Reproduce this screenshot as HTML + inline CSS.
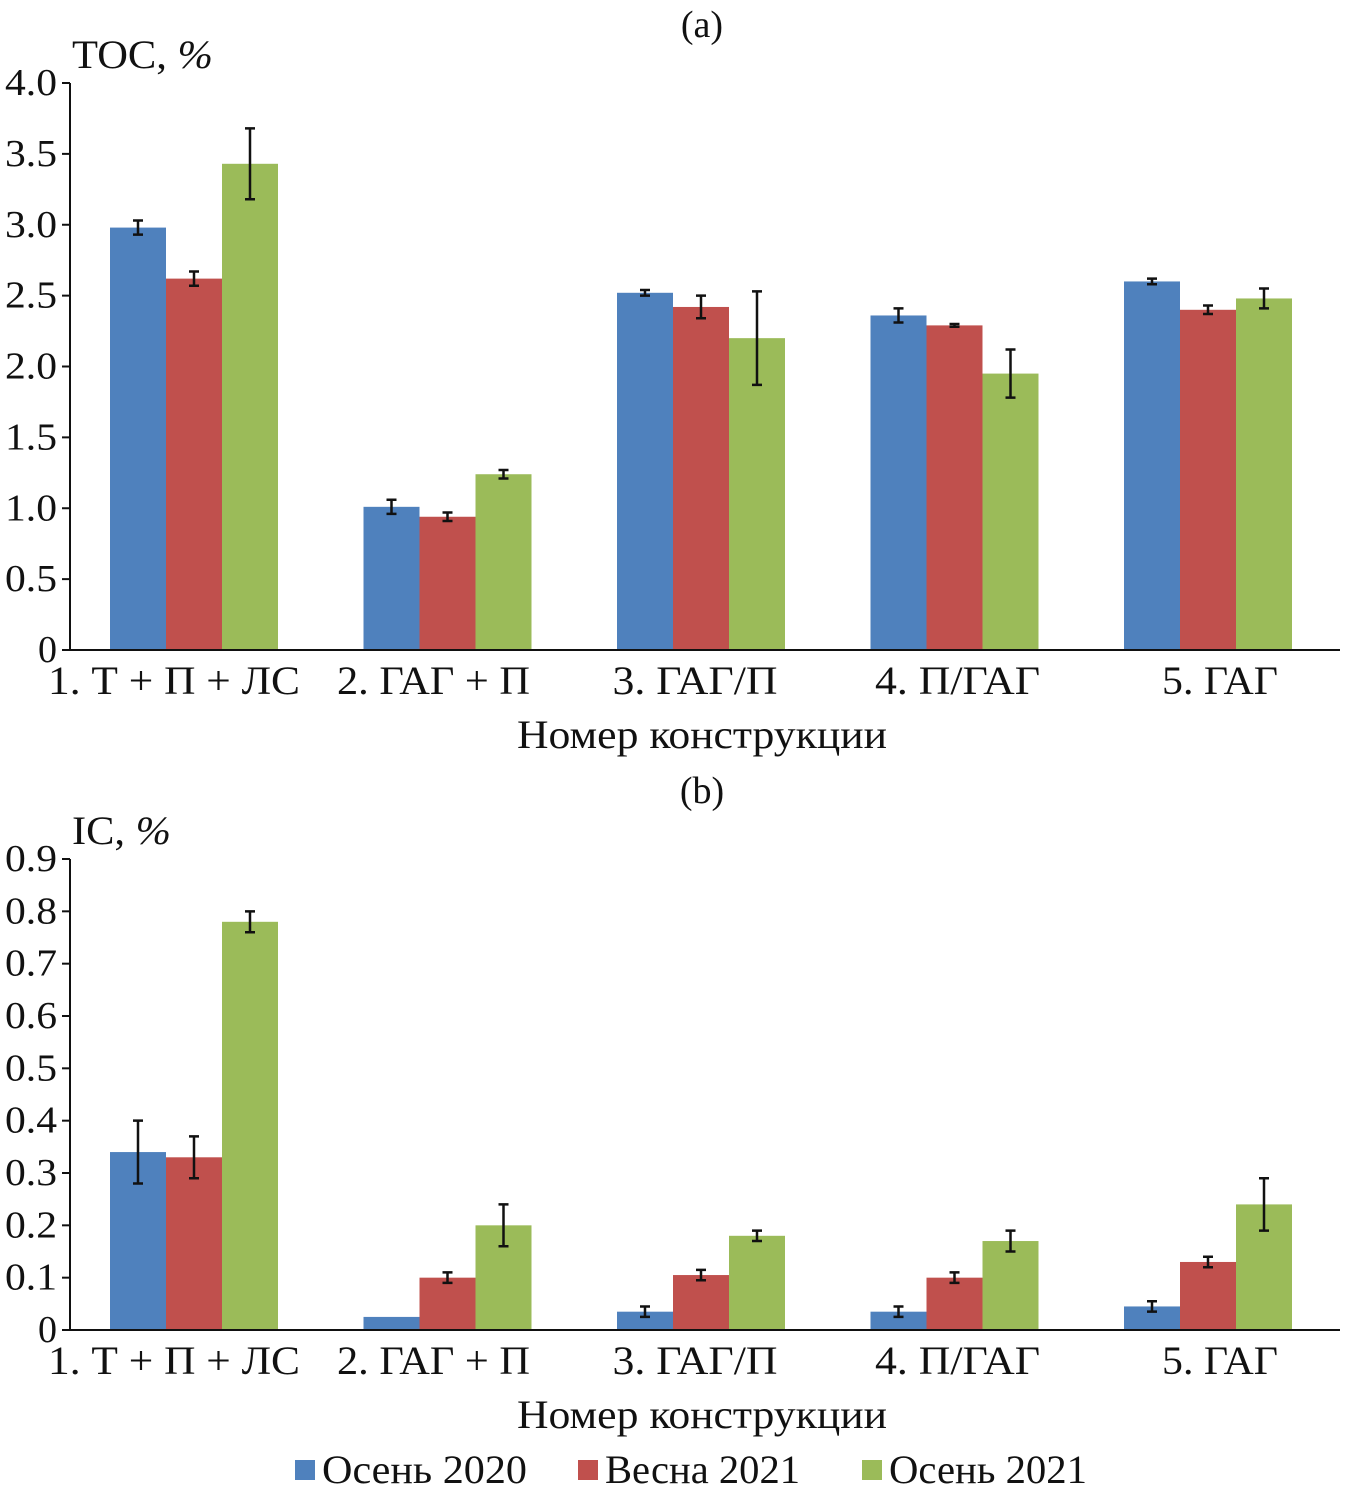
<!DOCTYPE html>
<html><head><meta charset="utf-8">
<style>
html,body{margin:0;padding:0;background:#fff;}
svg text{font-family:"Liberation Serif","DejaVu Serif",serif;fill:#111;}
</style></head>
<body>
<svg id="chart" width="1345" height="1500" xmlns="http://www.w3.org/2000/svg"></svg>
<script>
const categories = ["1. Т + П + ЛС","2. ГАГ + П","3. ГАГ/П","4. П/ГАГ","5. ГАГ"];
const seriesNames = ["Осень 2020","Весна 2021","Осень 2021"];
const seriesColors = ["#4f81bd","#c0504d","#9bbb59"];
const tocAutumn2020 = [2.98,1.01,2.52,2.36,2.60];
const tocSpring2021 = [2.62,0.94,2.42,2.29,2.40];
const tocAutumn2021 = [3.43,1.24,2.20,1.95,2.48];
const tocErr2020 = [0.05,0.05,0.02,0.05,0.02];
const tocErrS2021 = [0.05,0.03,0.08,0.01,0.03];
const tocErr2021 = [0.25,0.03,0.33,0.17,0.07];
const tocTicks = ["0","0.5","1.0","1.5","2.0","2.5","3.0","3.5","4.0"];
const icAutumn2020 = [0.34,0.025,0.035,0.035,0.045];
const icSpring2021 = [0.33,0.10,0.105,0.10,0.13];
const icAutumn2021 = [0.78,0.20,0.18,0.17,0.24];
const icErr2020 = [0.06,0,0.01,0.01,0.01];
const icErrS2021 = [0.04,0.01,0.01,0.01,0.01];
const icErr2021 = [0.02,0.04,0.01,0.02,0.05];
const icTicks = ["0","0.1","0.2","0.3","0.4","0.5","0.6","0.7","0.8","0.9"];

const svg = document.getElementById('chart');
const NS = "http://www.w3.org/2000/svg";
function mk(tag, attrs, text){
  const e = document.createElementNS(NS, tag);
  for (const k in attrs) e.setAttribute(k, attrs[k]);
  if (text !== undefined) e.textContent = text;
  svg.appendChild(e);
  return e;
}
const labelShift = [-20,-14,-6,3,12];
const labelLen = [252,193,165,165,116];

function drawPanel(p){
  const x0 = 70, x1 = 1340, gw = 253.5, bw = 56;
  const yScale = v => p.yBottom - (v / p.yMax) * (p.yBottom - p.yTop);
  const xGroup = i => x0 + i * gw + 40;
  let t = mk('text',{x:702,y:p.titleY,'font-size':38,'text-anchor':'middle'},p.title);
   
  t = mk('text',{x:72,y:p.yTop-15,'font-size':40,textLength:p.yLabelLen,lengthAdjust:'spacingAndGlyphs'},'');
   
  t.innerHTML = p.yLabel + ', <tspan font-style="italic">%</tspan>';
  p.ticks.forEach((lab) => {
    const v = parseFloat(lab);
    const y = yScale(v);
    let l = mk('line',{x1:x0-8,x2:x0,y1:y,y2:y,stroke:'#111','stroke-width':2});
     
    const attrs = {x:57,y:y+12,'font-size':38,'text-anchor':'end'};
    if (lab.length === 3) { attrs.textLength = 52; attrs.lengthAdjust = 'spacingAndGlyphs'; }
    let tt = mk('text',attrs,lab);
     
  });
  p.series.forEach((vals, s) => {
    vals.forEach((v, i) => {
      const x = xGroup(i) + s * bw;
      const y = yScale(v);
      let r = mk('rect',{x:x,y:y,width:bw,height:p.yBottom-y,fill:seriesColors[s]});
       
      const e = p.errs[s][i];
      if (e > 0) {
        const cx = x + bw/2, ya = yScale(v+e), yb = yScale(v-e);
        let g = mk('path',{d:`M${cx},${ya}V${yb}M${cx-5},${ya}H${cx+5}M${cx-5},${yb}H${cx+5}`,stroke:'#111','stroke-width':2.5,fill:'none'});
         
      }
    });
  });
  let a = mk('line',{x1:x0,x2:x0,y1:p.yTop,y2:p.yBottom+1,stroke:'#111','stroke-width':2});
   
  a = mk('line',{x1:x0,x2:x1,y1:p.yBottom,y2:p.yBottom,stroke:'#111','stroke-width':2});
   
  categories.forEach((c, i) => {
    const cx = xGroup(i)+bw*1.5+labelShift[i];
    let tt = mk('text',{x:cx-labelLen[i]/2,y:p.yBottom+44,'font-size':40,textLength:labelLen[i],lengthAdjust:'spacingAndGlyphs'},c);
     
  });
  t = mk('text',{x:517,y:p.yBottom+98,'font-size':40,textLength:370,lengthAdjust:'spacingAndGlyphs'},'Номер конструкции');
   
}

drawPanel({key:'toc',title:'(a)',titleY:37,yLabel:'TOC',yLabelLen:141,yTop:83,yBottom:650,yMax:4.0,ticks:tocTicks,
  series:[tocAutumn2020,tocSpring2021,tocAutumn2021],errs:[tocErr2020,tocErrS2021,tocErr2021]});
drawPanel({key:'ic',title:'(b)',titleY:803,yLabel:'IC',yLabelLen:99,yTop:859,yBottom:1330,yMax:0.9,ticks:icTicks,
  series:[icAutumn2020,icSpring2021,icAutumn2021],errs:[icErr2020,icErrS2021,icErr2021]});

const legendX = [295, 578, 862];
const legendLen = [205,195,198];
seriesNames.forEach((n, s) => {
  let r = mk('rect',{x:legendX[s],y:1460,width:20,height:20,fill:seriesColors[s]});
   
  let t = mk('text',{x:legendX[s]+27,y:1483,'font-size':40,textLength:legendLen[s],lengthAdjust:'spacingAndGlyphs'},n);
   
});
</script>
</body></html>
